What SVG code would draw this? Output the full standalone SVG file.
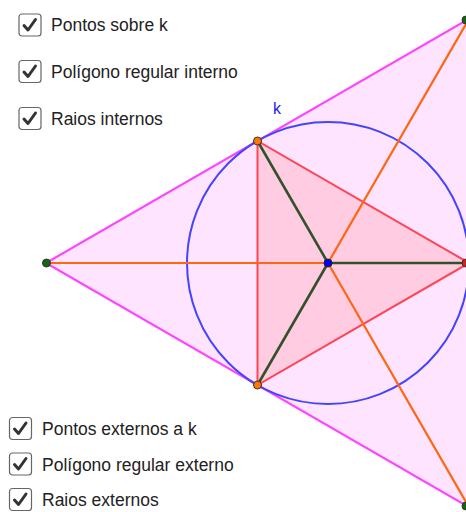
<svg xmlns="http://www.w3.org/2000/svg" width="466" height="512" viewBox="0 0 466 512">
<style>
.lbl{font-family:"Liberation Sans",Arial,sans-serif;font-size:17.5px;fill:#222}
.box{fill:#fff;stroke:#666;stroke-width:1.2}
.chk{fill:none;stroke:#333;stroke-width:3;stroke-linecap:round;stroke-linejoin:round}
.orange{stroke:#ff6611;stroke-width:2.2}
.green{stroke:#33502a;stroke-width:2.6}
</style>
<defs>
<g id="cb"><rect class="box" x="0.5" y="0.5" width="22" height="22" rx="3"/><path class="chk" d="M5.5 12 L9.5 16.5 L17 6"/></g>
</defs>
<rect width="466" height="512" fill="#fff"/>
<g id="outer-polygon"><polygon points="46,263 469,18.8 469,507.2" fill="#ffe4ff" stroke="#ff44ff" stroke-width="2.2"/></g>
<g id="inner-polygon"><polygon points="257.5,141 257.5,385 469,263" fill="#ffcce2" stroke="#ff4455" stroke-width="2"/></g>
<g id="circle-k"><circle cx="328" cy="263" r="141" fill="none" stroke="#4444ff" stroke-width="2"/><text x="273" y="114" font-family="Liberation Sans,Arial,sans-serif" font-size="16" fill="#2222ee">k</text></g>
<g id="connectors">
<line class="orange" x1="328" y1="263" x2="46" y2="263"/>
<line class="orange" x1="328" y1="263" x2="469" y2="18.8"/>
<line class="orange" x1="328" y1="263" x2="469" y2="507.2"/>
<line class="green" x1="328" y1="263" x2="257.5" y2="141"/>
<line class="green" x1="328" y1="263" x2="257.5" y2="385"/>
<line class="green" x1="328" y1="263" x2="469" y2="263"/>
</g>
<g id="points">
<circle cx="257.5" cy="141" r="4" fill="#ff7700" stroke="#333" stroke-width="1"/>
<circle cx="257.5" cy="385" r="4" fill="#ff7700" stroke="#333" stroke-width="1"/>
<circle cx="466" cy="263" r="4" fill="#cc2222" stroke="#333" stroke-width="1"/>
<circle cx="46.5" cy="263" r="4" fill="#116611" stroke="#333" stroke-width="1"/>
<circle cx="466" cy="20" r="4" fill="#116611" stroke="#333" stroke-width="1"/>
<circle cx="466" cy="506" r="4" fill="#116611" stroke="#333" stroke-width="1"/>
<circle cx="328" cy="263" r="4" fill="#0000ff" stroke="#222" stroke-width="1"/>
</g>
<g id="cb1"><use href="#cb" x="18.5" y="13.5"/><text class="lbl" x="51" y="31">Pontos sobre k</text></g>
<g id="cb2"><use href="#cb" x="18.5" y="60"/><text class="lbl" x="51" y="77.5">Polígono regular interno</text></g>
<g id="cb3"><use href="#cb" x="18.5" y="107"/><text class="lbl" x="51" y="124.5">Raios internos</text></g>
<g id="cb4"><use href="#cb" x="9" y="417"/><text class="lbl" x="42" y="435">Pontos externos a k</text></g>
<g id="cb5"><use href="#cb" x="9" y="452.5"/><text class="lbl" x="42" y="470.5">Polígono regular externo</text></g>
<g id="cb6"><use href="#cb" x="9" y="488"/><text class="lbl" x="42" y="506">Raios externos</text></g>
</svg>
